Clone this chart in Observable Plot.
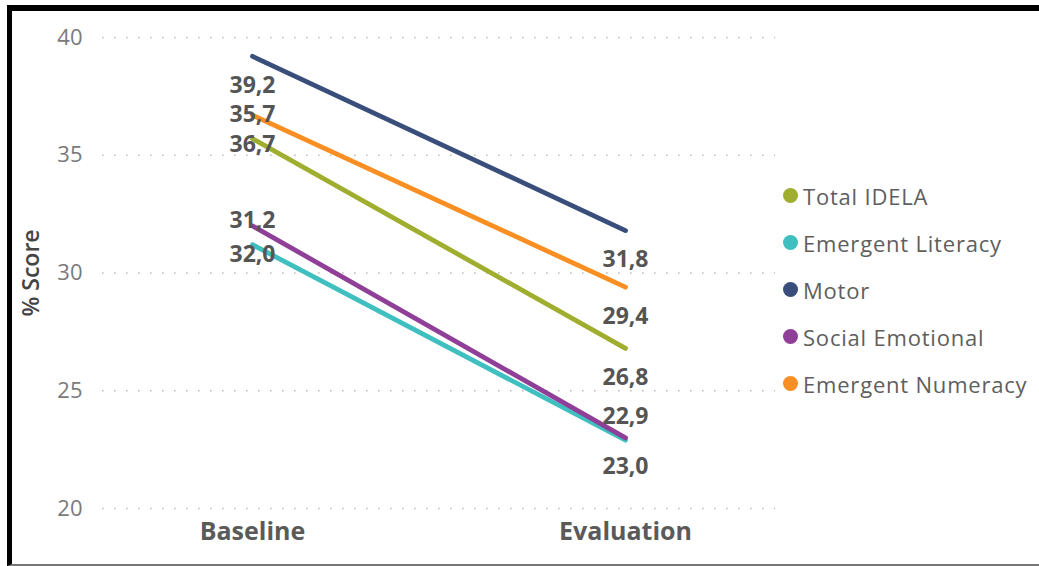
<!DOCTYPE html>
<html>
<head>
<meta charset="utf-8">
<script src="https://cdn.jsdelivr.net/npm/d3@7"></script>
<script src="https://cdn.jsdelivr.net/npm/@observablehq/plot@0.6"></script>
<style>
  html, body { margin: 0; padding: 0; background: #fff; }
  body { width: 1039px; height: 566px; position: relative; overflow: hidden; font-family: "Open Sans", "Noto Sans", sans-serif; }
  #frame {
    position: absolute; left: 7px; top: 5px; width: 1027px; height: 553px;
    border-top: 6px solid #000; border-left: 5px solid #000; border-bottom: 2px solid #777;
    background: #fff;
  }
  #chart { position: absolute; left: 0; top: 0; }
  #chart svg { overflow: visible; }
  #legend { position: absolute; left: 771px; top: 161px; }
  .item { display: flex; align-items: center; height: 47px; }
  .dot { width: 15px; height: 15px; border-radius: 50%; margin-right: 5px; flex: none; }
  .name { font-size: 22px; letter-spacing: 0.8px; color: #605e5c; white-space: nowrap; }
</style>
</head>
<body>
<div id="frame">
  <div id="chart"></div>
  <div id="legend"></div>
</div>
<script>
// Periods on the x axis
const periods = ["Baseline", "Evaluation"];
// Domains, in legend order
const seriesNames = ["Total IDELA", "Emergent Literacy", "Motor", "Social Emotional", "Emergent Numeracy"];
// % score at each period
const baselineScores = [35.7, 31.2, 39.2, 32.0, 36.7];
const evaluationScores = [26.8, 22.9, 31.8, 23.0, 29.4];
// y-axis ticks
const yTicks = [20, 25, 30, 35, 40];
const seriesColors = ["#a0ae30", "#3fbfbf", "#3a4e7c", "#8f3f97", "#f98f22"];

const rows = [];
seriesNames.forEach((s, i) => {
  rows.push({series: s, period: periods[0], value: baselineScores[i]});
  rows.push({series: s, period: periods[1], value: evaluationScores[i]});
});

// value labels that sit above their point; all others sit below
const aboveKeys = new Set([
  "Total IDELA|Baseline",
  "Emergent Literacy|Baseline",
  "Emergent Literacy|Evaluation"
]);
const isAbove = d => aboveKeys.has(d.series + "|" + d.period);
const fmt = v => v.toFixed(1).replace(".", ",");

const labelStyle = {
  x: "period", y: "value", text: d => fmt(d.value),
  fontSize: 23, fontWeight: 700, fill: "#555",
  fontFamily: "Open Sans, sans-serif"
};

const chart = Plot.plot({
  width: 780,
  height: 553,
  marginTop: 26,
  marginBottom: 56,
  marginLeft: 90,
  marginRight: 17,
  style: {fontFamily: "Open Sans, sans-serif", background: "transparent", overflow: "visible"},
  x: {type: "point", domain: periods, padding: 0.4},
  y: {domain: [20, 40]},
  color: {domain: seriesNames, range: seriesColors},
  marks: [
    Plot.gridY(yTicks, {stroke: "#bdbdbd", strokeOpacity: 1, strokeWidth: 1.6, strokeDasharray: "1.6,10.4"}),
    Plot.axisY({ticks: yTicks, tickSize: 0, tickPadding: 20, fontSize: 22, fill: "#7a7a7a", label: null}),
    Plot.axisX({tickSize: 0, tickPadding: 14, fontSize: 25, fontWeight: 700, fill: "#5a5a5a", label: null}),
    Plot.text(["% Score"], {frameAnchor: "left", textAnchor: "middle", rotate: -90, dx: -71, fontSize: 23, fontWeight: 600, fill: "#444"}),
    Plot.line(rows, {x: "period", y: "value", z: "series", stroke: "series", strokeWidth: 4.8, strokeLinecap: "round"}),
    Plot.text(rows.filter(d => !isAbove(d)), {...labelStyle, dy: 29}),
    Plot.text(rows.filter(isAbove), {...labelStyle, dy: -24})
  ]
});
document.getElementById("chart").appendChild(chart);

const legend = document.getElementById("legend");
seriesNames.forEach((s, i) => {
  const item = document.createElement("div");
  item.className = "item";
  const dot = document.createElement("span");
  dot.className = "dot";
  dot.style.background = seriesColors[i];
  const name = document.createElement("span");
  name.className = "name";
  name.textContent = s;
  item.appendChild(dot);
  item.appendChild(name);
  legend.appendChild(item);
});
</script>
</body>
</html>
